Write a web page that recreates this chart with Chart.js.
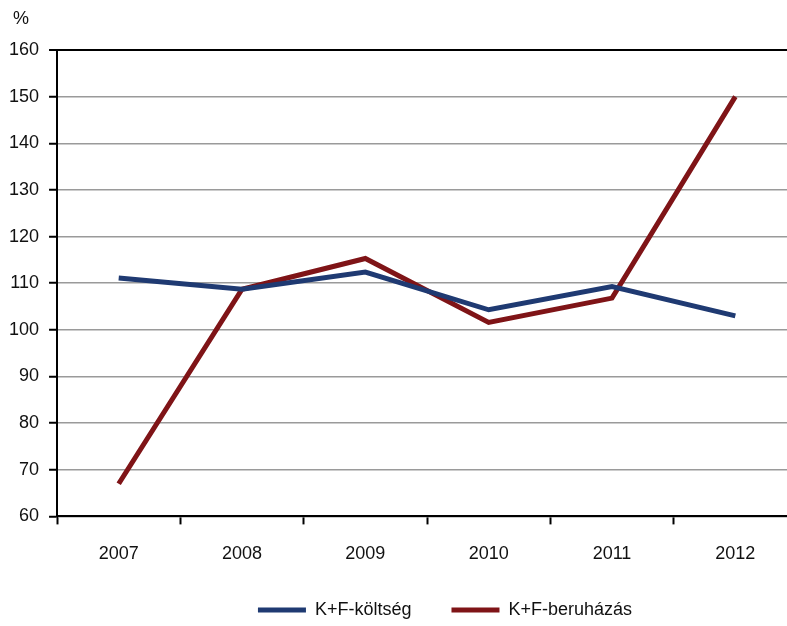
<!DOCTYPE html>
<html lang="hu">
<head>
    <meta charset="UTF-8">
    <title>K+F költség és beruházás</title>
    <script src="https://cdn.jsdelivr.net/npm/chart.js"></script>
    <style>
        html, body { margin: 0; padding: 0; overflow: hidden; background: #fff; }
        #chartContainer { position: absolute; left: 0; top: 0; width: 800px; height: 626px; }
    </style>
</head>
<body>
    <div id="chartContainer">
        <canvas id="rdChart"></canvas>
    </div>

    <script>
        // Years on the x axis
        var years = ['2007', '2008', '2009', '2010', '2011', '2012'];
        // Index values (%)
        var koltseg = [111.1, 108.7, 112.4, 104.3, 109.3, 103.0];
        var beruhazas = [67.0, 108.7, 115.3, 101.6, 106.8, 150.0];
        // Y axis range
        var yMin = 60, yMax = 160, yStep = 10;

        var fontFamily = '"Liberation Sans", Arial, sans-serif';
        var fontSize = 18;

        // Draws the "%" unit label and nudges the legend into place
        var extras = {
            id: 'extras',
            afterLayout: function(chart) {
                chart.legend.left += 47;
                chart.legend.right += 47;
                chart.legend.top -= 23;
                chart.legend.bottom -= 23;
            },
            afterDraw: function(chart) {
                var c = chart.ctx;
                c.save();
                c.font = fontSize + 'px ' + fontFamily;
                c.fillStyle = '#111';
                c.textAlign = 'left';
                c.textBaseline = 'middle';
                c.fillText('%', 13, 19);
                c.restore();
            }
        };

        var ctx = document.getElementById('rdChart').getContext('2d');
        var rdChart = new Chart(ctx, {
            type: 'line',
            data: {
                labels: years,
                datasets: [
                    {
                        label: 'K+F-költség',
                        data: koltseg,
                        borderColor: '#1f3a72',
                        backgroundColor: '#1f3a72',
                        borderWidth: 5,
                        pointRadius: 0,
                        tension: 0
                    },
                    {
                        label: 'K+F-beruházás',
                        data: beruhazas,
                        borderColor: '#7f1417',
                        backgroundColor: '#7f1417',
                        borderWidth: 5,
                        pointRadius: 0,
                        tension: 0
                    }
                ]
            },
            options: {
                responsive: true,
                maintainAspectRatio: false,
                animation: false,
                layout: { padding: { left: -1, right: 3, top: 50, bottom: -26 } },
                plugins: {
                    legend: {
                        position: 'bottom',
                        labels: {
                            boxWidth: 48,
                            boxHeight: 0,
                            padding: 40,
                            color: '#111',
                            font: { family: fontFamily, size: fontSize }
                        }
                    },
                    tooltip: { enabled: false }
                },
                scales: {
                    x: {
                        offset: true,
                        grid: {
                            offset: true,
                            drawOnChartArea: false,
                            drawTicks: true,
                            tickLength: 8,
                            tickColor: '#000',
                            tickWidth: 2
                        },
                        border: { color: '#000', width: 2 },
                        ticks: {
                            color: '#111',
                            padding: 19,
                            font: { family: fontFamily, size: fontSize }
                        }
                    },
                    y: {
                        min: yMin,
                        max: yMax,
                        grid: {
                            color: function(c) { return c.tick && c.tick.value === yMax ? '#000' : '#9a9a9a'; },
                            lineWidth: function(c) { return c.tick && c.tick.value === yMax ? 2 : 1.5; },
                            tickLength: 8,
                            tickColor: '#000',
                            tickWidth: 2
                        },
                        border: { color: '#000', width: 2 },
                        ticks: {
                            stepSize: yStep,
                            color: '#111',
                            padding: 10,
                            font: { family: fontFamily, size: fontSize }
                        }
                    }
                }
            },
            plugins: [extras]
        });
    </script>
</body>
</html>
